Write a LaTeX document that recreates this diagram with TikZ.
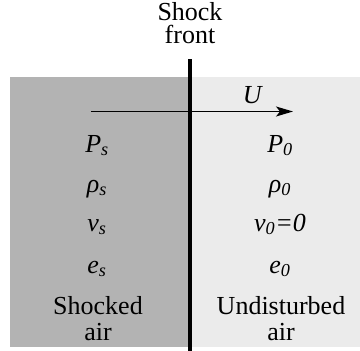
\documentclass[tikz,border=0pt]{standalone}
\usepackage{fontspec}
\setmainfont{Liberation Serif}
\usetikzlibrary{arrows.meta}
\definecolor{shocked}{HTML}{B3B3B3}
\definecolor{undist}{HTML}{EBEBEB}
\begin{document}
\begin{tikzpicture}[x=1pt,y=-1pt,
  lbl/.style={anchor=base,inner sep=0pt,font=\fontsize{26}{24}\selectfont},
  txt/.style={anchor=base,inner sep=0pt,align=center,font=\fontsize{26}{26}\selectfont}]
\useasboundingbox (0,0) rectangle (360,351);
\fill[shocked] (10,77) rectangle (190,347);
\fill[undist] (190,77) rectangle (360,347);
\node[txt,anchor=base,font=\fontsize{26}{23}\selectfont] (shock) at (190,43) {Shock\\front};
\coordinate (ftop) at (190,59);
\coordinate (fbot) at (190,351);
\draw[line width=3.5pt] (ftop) -- (fbot);
\coordinate (a0) at (91,111.5);
\coordinate (a1) at (293,111.5);
\draw[line width=1.4pt,-{Stealth[length=17pt,width=10pt,inset=4pt]}] (a0) -- (a1);
\node[lbl] (U) at (253,103) {\textit{U}};
\node[lbl] (Ps) at (97,152) {\textit{P\textsubscript{s}}};
\node[lbl] (P0) at (280,152) {\textit{P\textsubscript{0}}};
\node[lbl] (rs) at (97,192) {\textit{ρ\textsubscript{s}}};
\node[lbl] (r0) at (280,192) {\textit{ρ\textsubscript{0}}};
\node[lbl] (vs) at (97,231) {\textit{v\textsubscript{s}}};
\node[lbl] (v0) at (280,231) {\textit{v\textsubscript{0}=0}};
\node[lbl] (es) at (97,273) {\textit{e\textsubscript{s}}};
\node[lbl] (e0) at (280,273) {\textit{e\textsubscript{0}}};
\node[txt,anchor=base] (sa) at (98,340) {Shocked\\air};
\node[txt,anchor=base] (ua) at (281,340) {Undisturbed\\air};
\end{tikzpicture}
\end{document}
